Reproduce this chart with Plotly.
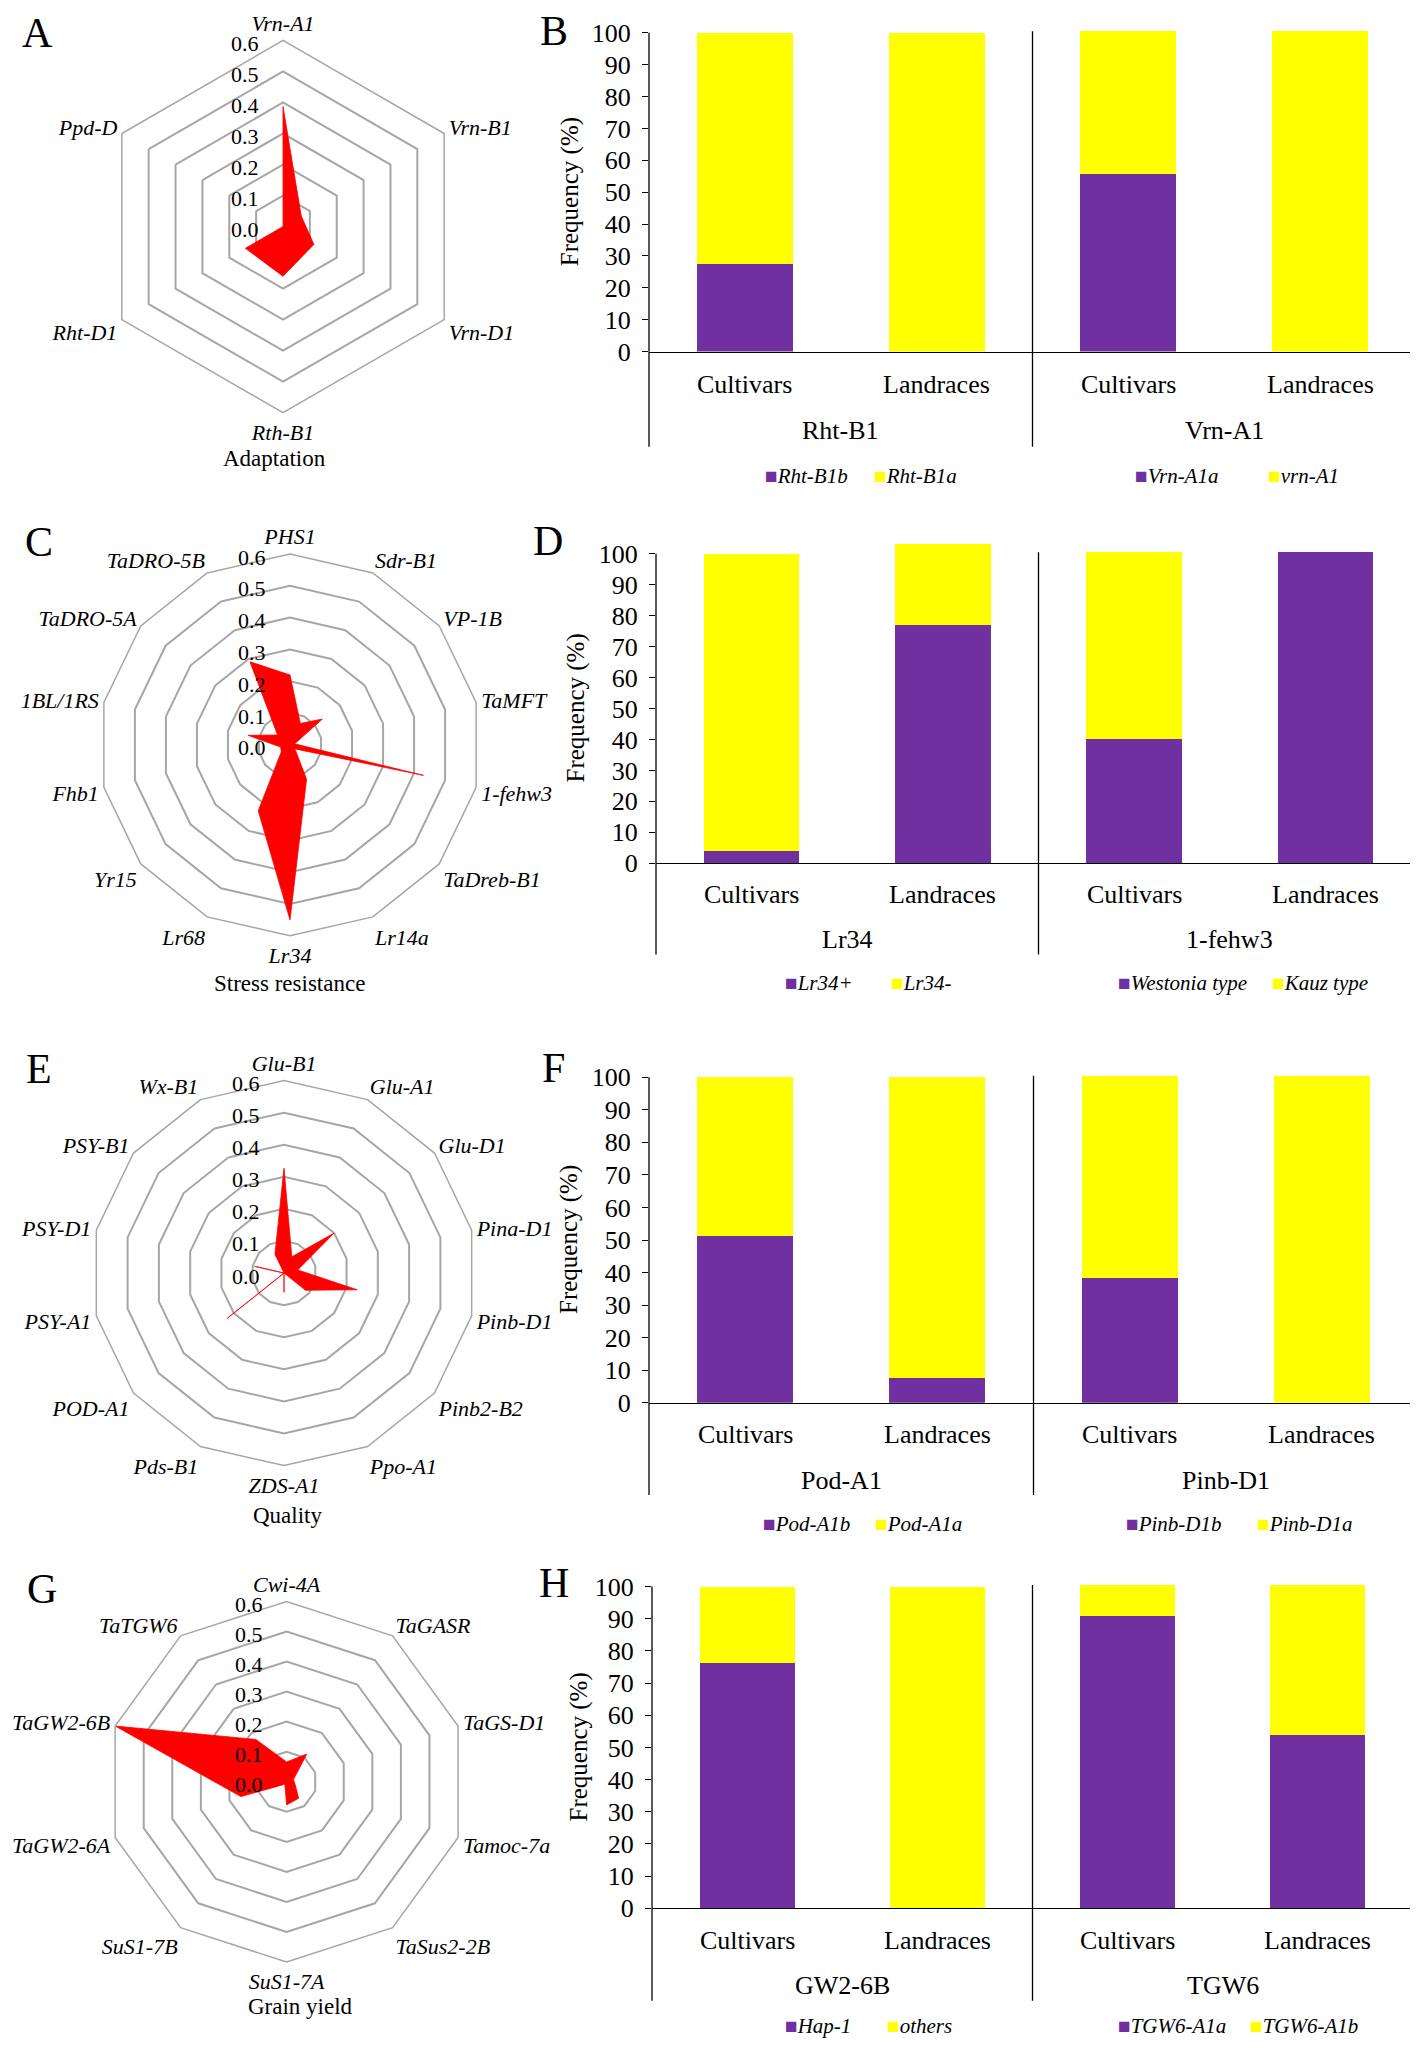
import plotly.graph_objects as go

# ---------------- data ----------------
radar_ticks = [0.0, 0.1, 0.2, 0.3, 0.4, 0.5, 0.6]
RADAR_MAX = 0.6

adapt_genes = ["Vrn-A1", "Vrn-B1", "Vrn-D1", "Rth-B1", "Rht-D1", "Ppd-D"]
adapt_vals = [0.387, 0.068, 0.115, 0.16, 0.14, 0.0]

stress_genes = ["PHS1", "Sdr-B1", "VP-1B", "TaMFT", "1-fehw3", "TaDreb-B1", "Lr14a",
                "Lr34", "Lr68", "Yr15", "Fhb1", "1BL/1RS", "TaDRO-5A", "TaDRO-5B"]
stress_vals = [0.22, 0.075, 0.13, 0.015, 0.43, 0.02, 0.12,
               0.55, 0.23, 0.035, 0.03, 0.135, 0.05, 0.29]

quality_genes = ["Glu-B1", "Glu-A1", "Glu-D1", "Pina-D1", "Pinb-D1", "Pinb2-B2", "Ppo-A1",
                 "ZDS-A1", "Pds-B1", "POD-A1", "PSY-A1", "PSY-D1", "PSY-B1", "Wx-B1"]
quality_vals = [0.327, 0.056, 0.20, 0.044, 0.234, 0.086, 0.0,
                0.06, 0.0, 0.226, 0.0, 0.094, 0.0, 0.065]

yield_genes = ["Cwi-4A", "TaGASR", "TaGS-D1", "Tamoc-7a", "TaSus2-2B", "SuS1-7A",
               "SuS1-7B", "TaGW2-6A", "TaGW2-6B", "TaTGW6"]
yield_vals = [0.066, 0.114, 0.024, 0.03, 0.068, 0.077, 0.01, 0.16, 0.6, 0.174]

populations = ["Cultivars", "Landraces"]
freq_ticks = [0, 10, 20, 30, 40, 50, 60, 70, 80, 90, 100]

b_genes = ["Rht-B1", "Vrn-A1"]
b_alleles = [["Rht-B1b", "Rht-B1a"], ["Vrn-A1a", "vrn-A1"]]
b_first = [[27.4, 0.0], [55.8, 0.0]]
b_second = [[72.6, 100.0], [44.7, 100.5]]

d_genes = ["Lr34", "1-fehw3"]
d_alleles = [["Lr34+", "Lr34-"], ["Westonia type", "Kauz type"]]
d_first = [[4.1, 77.0], [40.2, 100.5]]
d_second = [[95.9, 26.1], [60.3, 0.0]]

f_genes = ["Pod-A1", "Pinb-D1"]
f_alleles = [["Pod-A1b", "Pod-A1a"], ["Pinb-D1b", "Pinb-D1a"]]
f_first = [[51.2, 7.5], [38.2, 0.0]]
f_second = [[48.8, 92.5], [62.3, 100.5]]

h_genes = ["GW2-6B", "TGW6"]
h_alleles = [["Hap-1", "others"], ["TGW6-A1a", "TGW6-A1b"]]
h_first = [[76.4, 0.0], [91.0, 54.0]]
h_second = [[23.6, 100.0], [9.5, 46.5]]

# ---------------- styling / layout ----------------
W, H = 1418, 2049
SERIF = "Liberation Serif"
PURPLE = "#7030A0"
YELLOW = "#FFFF00"
GRID = "#A6A6A6"


def px(x):
    return x / W


def py(y):
    return 1 - y / H


fig = go.Figure()
layout = dict(width=W, height=H, margin=dict(l=0, r=0, t=0, b=0),
              paper_bgcolor="white", plot_bgcolor="white",
              barmode="stack", bargap=0.5, showlegend=False,
              font=dict(family=SERIF, color="black"))
annotations = []
shapes = []

# radar panels: (genes, values, title, letter, centre/radius px, title pos px, letter pos px)
radars = [
    (adapt_genes, adapt_vals, "Adaptation", "A", (275, 219.3, 187.6), (266, 453), (30, 24)),
    (stress_genes, stress_vals, "Stress resistance", "C", (282, 741.7, 192.4), (281, 982), (31, 537)),
    (quality_genes, quality_vals, "Quality", "E", (276, 1274, 194), (279, 1518), (31, 1068)),
    (yield_genes, yield_vals, "Grain yield", "G", (278.6, 1786.7, 181.7), (292, 2013), (34, 1592)),
]

for i, (genes, vals, title, letter, (cx, cy, r), (tx, ty), (lx, ly)) in enumerate(radars):
    key = "polar" if i == 0 else f"polar{i + 1}"
    fig.add_trace(go.Scatterpolar(
        r=vals + [vals[0]], theta=genes + [genes[0]],
        mode="lines", fill="toself", fillcolor="#FF0000",
        line=dict(color="#FF0000", width=0.8),
        subplot=key, showlegend=False, name=title))
    layout[key] = dict(
        domain=dict(x=[px(cx - r), px(cx + r)], y=[py(cy + r), py(cy - r)]),
        gridshape="linear", bgcolor="white",
        angularaxis=dict(direction="clockwise", rotation=90, showgrid=False,
                         showline=True, linecolor=GRID, linewidth=1.5, ticks="",
                         categoryorder="array", categoryarray=genes,
                         tickfont=dict(family=SERIF, size=22, style="italic", color="black")),
        radialaxis=dict(range=[0, RADAR_MAX], tickvals=radar_ticks,
                        showline=False, ticks="", showgrid=True, gridcolor=GRID, gridwidth=1.5,
                        angle=90, showticklabels=False))
    # radial tick labels (left of the vertical axis, one per ring)
    for t in radar_ticks:
        annotations.append(dict(text=f"{t:.1f}", x=px(cx - 22), y=py(cy - r * t / RADAR_MAX),
                                xref="paper", yref="paper", showarrow=False,
                                xanchor="right", yanchor="middle", yshift=-3,
                                font=dict(family=SERIF, size=22, color="black")))
    annotations.append(dict(text=title, x=px(tx), y=py(ty), xref="paper", yref="paper",
                            showarrow=False, xanchor="center", yanchor="middle",
                            font=dict(family=SERIF, size=23, color="black")))
    annotations.append(dict(text=letter, x=px(lx), y=py(ly), xref="paper", yref="paper",
                            showarrow=False, xanchor="center", yanchor="middle",
                            font=dict(family=SERIF, size=42, color="black")))

# bar panels
bar_panels = [
    (b_genes, b_alleles, b_first, b_second, "B",
     dict(x0=641, x1=1408, y0=345.3, y100=24, cat=33, grp=80, bot=96, leg=125,
          legx=[755, 864, 1125, 1258], ytitle=562, letter=(546, 22))),
    (d_genes, d_alleles, d_first, d_second, "D",
     dict(x0=648, x1=1413, y0=861, y100=549, cat=31, grp=77, bot=92, leg=121,
          legx=[775, 881, 1108, 1262], ytitle=568, letter=(540, 536))),
    (f_genes, f_alleles, f_first, f_second, "F",
     dict(x0=641, x1=1410, y0=1404.7, y100=1076.7, cat=32, grp=78, bot=93, leg=122,
          legx=[753, 865, 1116, 1247], ytitle=561, letter=(545, 1067))),
    (h_genes, h_alleles, h_first, h_second, "H",
     dict(x0=644, x1=1405, y0=1914.3, y100=1590, cat=32, grp=78, bot=93, leg=119,
          legx=[775, 877, 1108, 1240], ytitle=571, letter=(546, 1586))),
]

YMAX = 104.0
for k, (genes, alleles, first, second, letter, g) in enumerate(bar_panels):
    n = "" if k == 0 else str(k + 1)
    xa, ya = "x" + n, "y" + n
    per = (g["y0"] - g["y100"]) / 100.0
    ytop = g["y0"] - YMAX * per
    for gi in range(2):
        xs = [2 * gi, 2 * gi + 1]
        fig.add_trace(go.Bar(x=xs, y=first[gi], name=alleles[gi][0], marker=dict(color=PURPLE, line=dict(width=0)),
                             xaxis=xa, yaxis=ya, showlegend=False))
        fig.add_trace(go.Bar(x=xs, y=second[gi], name=alleles[gi][1], marker=dict(color=YELLOW, line=dict(width=0)),
                             xaxis=xa, yaxis=ya, showlegend=False))
    layout["xaxis" + n] = dict(domain=[px(g["x0"]), px(g["x1"])], range=[-0.5, 3.5], anchor=ya,
                               showline=True, linecolor="black", linewidth=1.3, ticks="",
                               showticklabels=False, showgrid=False, zeroline=False)
    layout["yaxis" + n] = dict(domain=[py(g["y0"]), py(ytop)], range=[0, YMAX], anchor=xa,
                               tickvals=freq_ticks, ticks="outside", ticklen=6, tickwidth=1.3,
                               tickcolor="black", showline=False, showgrid=False, zeroline=False,
                               ticklabelstandoff=6,
                               tickfont=dict(family=SERIF, size=26, color="black"))
    xd, yd = xa + " domain", ya + " domain"
    # y axis line 0..100
    shapes.append(dict(type="line", xref=xd, yref=yd, x0=0, x1=0, y0=0, y1=100 / YMAX,
                       line=dict(color="black", width=1.3)))
    # category box lines
    bot = g["y0"] + g["bot"]
    shapes.append(dict(type="line", xref=xd, yref="paper", x0=0, x1=0, y0=py(bot), y1=py(g["y0"]),
                       line=dict(color="black", width=1.3)))
    shapes.append(dict(type="line", xref=xd, yref="paper", x0=1, x1=1, y0=py(bot), y1=py(g["y0"]),
                       line=dict(color="black", width=1.3)))
    shapes.append(dict(type="line", xref=xd, yref="paper", x0=0.5, x1=0.5, y0=py(bot),
                       y1=py(g["y100"] - 0.5 * per), line=dict(color="black", width=1.3)))
    for gi in range(2):
        for pi, pop in enumerate(populations):
            annotations.append(dict(text=pop, x=2 * gi + pi, xref=xa, y=py(g["y0"] + g["cat"]), yref="paper",
                                    showarrow=False, xanchor="center", yanchor="middle",
                                    font=dict(family=SERIF, size=26, color="black")))
        annotations.append(dict(text=genes[gi], x=2 * gi + 0.5, xref=xa, y=py(g["y0"] + g["grp"]), yref="paper",
                                showarrow=False, xanchor="center", yanchor="middle",
                                font=dict(family=SERIF, size=26, color="black")))
        for ai in range(2):
            col = PURPLE if ai == 0 else YELLOW
            annotations.append(dict(
                text=f'<span style="color:{col}">■</span><i>{alleles[gi][ai]}</i>',
                x=px(g["legx"][2 * gi + ai]), y=py(g["y0"] + g["leg"]), xref="paper", yref="paper",
                showarrow=False, xanchor="left", yanchor="middle",
                font=dict(family=SERIF, size=21, color="black")))
    annotations.append(dict(text="Frequency (%)", x=px(g["ytitle"]), y=py((g["y0"] + g["y100"]) / 2),
                            xref="paper", yref="paper", showarrow=False, textangle=-90,
                            xanchor="center", yanchor="middle",
                            font=dict(family=SERIF, size=25, color="black")))
    lx, ly = g["letter"]
    annotations.append(dict(text=letter, x=px(lx), y=py(ly), xref="paper", yref="paper",
                            showarrow=False, xanchor="center", yanchor="middle",
                            font=dict(family=SERIF, size=42, color="black")))

layout["annotations"] = annotations
layout["shapes"] = shapes
fig.update_layout(**layout)
fig.write_html("out.html")
